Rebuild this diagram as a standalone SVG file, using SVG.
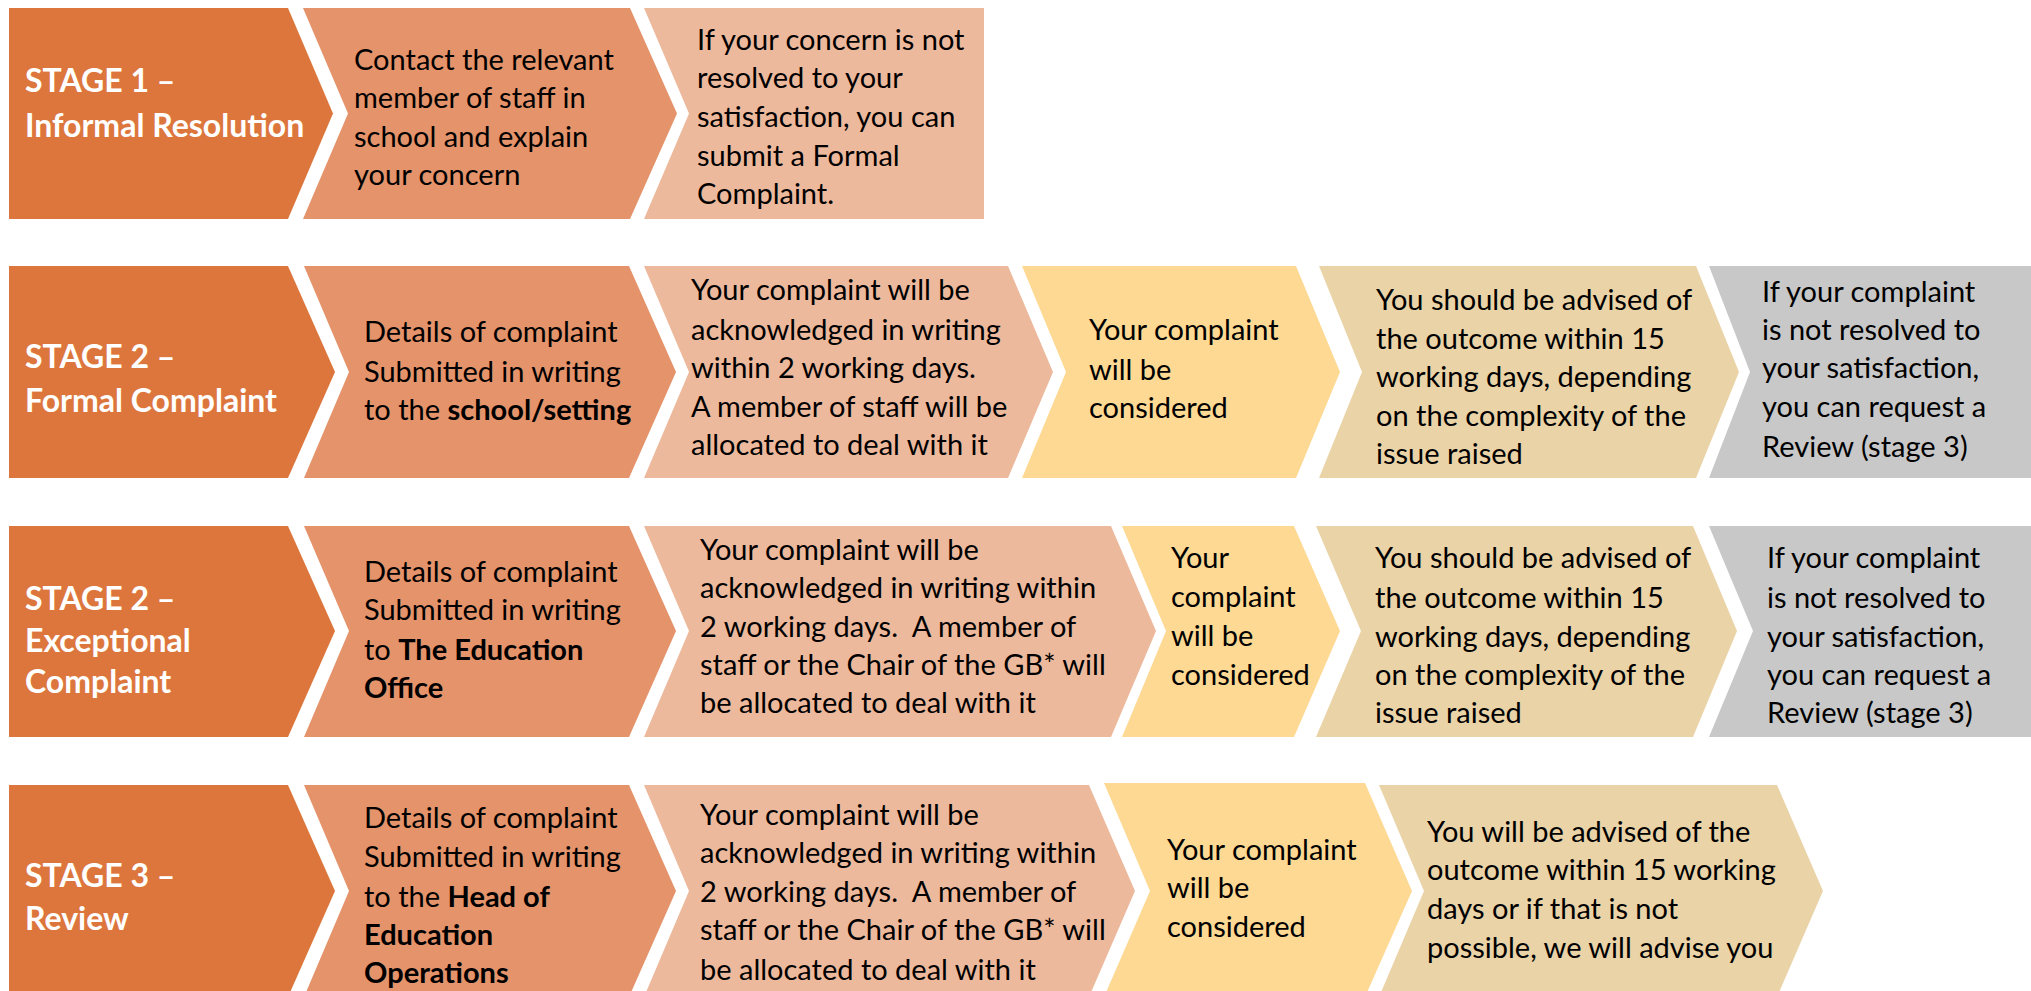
<svg xmlns="http://www.w3.org/2000/svg" width="2031" height="991" viewBox="0 0 2031 991">
<style>
text{font-family:Lato,"Liberation Sans",sans-serif;font-size:29px;fill:#000}
.st{font-weight:bold;fill:#fff;font-size:32px}
.b{font-weight:bold}
.c1{fill:#DD763D}.c2{fill:#E4936A}.c3{fill:#EDB99C}.c4{fill:#FDD993}.c5{fill:#EAD3A7}.c6{fill:#C8C8C8}
</style>
<rect width="2031" height="991" fill="#fff"/>
<g id="connectors"/>
<!-- Row 1 -->
<g id="r1-stage"><polygon class="c1" points="9,8 288,8 333,113.5 288,219 9,219"/>
<text class="st" x="25" y="92">STAGE 1 –</text><text class="st" x="25" y="137">Informal Resolution</text></g>
<g id="r1-contact"><polygon class="c2" points="303,8 630,8 677,113.5 630,219 303,219 348,113.5"/>
<text x="354" y="70">Contact the relevant</text><text x="354" y="108">member of staff in</text><text x="354" y="147">school and explain</text><text x="354" y="185">your concern</text></g>
<g id="r1-formal"><polygon class="c3" points="644,8 984,8 984,219 644,219 689,113.5"/>
<text x="697" y="50">If your concern is not</text><text x="697" y="88">resolved to your</text><text x="697" y="127">satisfaction, you can</text><text x="697" y="166">submit a Formal</text><text x="697" y="204">Complaint.</text></g>
<!-- Row 2 -->
<g id="r2-stage"><polygon class="c1" points="9,266 288,266 335,372 288,478 9,478"/>
<text class="st" x="25" y="368">STAGE 2 –</text><text class="st" x="25" y="412">Formal Complaint</text></g>
<g id="r2-details"><polygon class="c2" points="304,266 629,266 676,372 629,478 304,478 349,372"/>
<text x="364" y="342">Details of complaint</text><text x="364" y="382">Submitted in writing</text><text x="364" y="420">to the <tspan class="b">school/setting</tspan></text></g>
<g id="r2-ack"><polygon class="c3" points="644,266 1008,266 1053,372 1008,478 644,478 689,372"/>
<text x="691" y="300">Your complaint will be</text><text x="691" y="340">acknowledged in writing</text><text x="691" y="378">within 2 working days.</text><text x="691" y="417">A member of staff will be</text><text x="691" y="455">allocated to deal with it</text></g>
<g id="r2-considered"><polygon class="c4" points="1022,266 1296,266 1340,372 1296,478 1022,478 1066,372"/>
<text x="1089" y="340">Your complaint</text><text x="1089" y="380">will be</text><text x="1089" y="418">considered</text></g>
<g id="r2-outcome"><polygon class="c5" points="1319,266 1696,266 1739,372 1696,478 1319,478 1362,372"/>
<text x="1376" y="310">You should be advised of</text><text x="1376" y="349">the outcome within 15</text><text x="1376" y="387">working days, depending</text><text x="1376" y="426">on the complexity of the</text><text x="1376" y="464">issue raised</text></g>
<g id="r2-review"><polygon class="c6" points="1709,266 2031,266 2031,478 1709,478 1750,372"/>
<text x="1762" y="302">If your complaint</text><text x="1762" y="340">is not resolved to</text><text x="1762" y="378">your satisfaction,</text><text x="1762" y="417">you can request a</text><text x="1762" y="457">Review (stage 3)</text></g>
<!-- Row 3 -->
<g id="r3-stage"><polygon class="c1" points="9,526 288,526 335,631 288,737 9,737"/>
<text class="st" x="25" y="610">STAGE 2 –</text><text class="st" x="25" y="652">Exceptional</text><text class="st" x="25" y="693">Complaint</text></g>
<g id="r3-details"><polygon class="c2" points="304,526 629,526 676,631 629,737 304,737 349,631"/>
<text x="364" y="582">Details of complaint</text><text x="364" y="620">Submitted in writing</text><text x="364" y="660">to <tspan class="b">The Education</tspan></text><text class="b" x="364" y="698">Office</text></g>
<g id="r3-ack"><polygon class="c3" points="644,526 1111,526 1156,631 1111,737 644,737 689,631"/>
<text x="700" y="560">Your complaint will be</text><text x="700" y="598">acknowledged in writing within</text><text x="700" y="637" xml:space="preserve">2 working days.  A member of</text><text x="700" y="675">staff or the Chair of the GB* will</text><text x="700" y="713">be allocated to deal with it</text></g>
<g id="r3-considered"><polygon class="c4" points="1122,526 1294,526 1340,631 1294,737 1122,737 1166,631"/>
<text x="1171" y="568">Your</text><text x="1171" y="607">complaint</text><text x="1171" y="646">will be</text><text x="1171" y="685">considered</text></g>
<g id="r3-outcome"><polygon class="c5" points="1316,526 1693,526 1737,631 1693,737 1316,737 1361,631"/>
<text x="1375" y="568">You should be advised of</text><text x="1375" y="608">the outcome within 15</text><text x="1375" y="647">working days, depending</text><text x="1375" y="685">on the complexity of the</text><text x="1375" y="723">issue raised</text></g>
<g id="r3-review"><polygon class="c6" points="1709,526 2031,526 2031,737 1709,737 1753,631"/>
<text x="1767" y="568">If your complaint</text><text x="1767" y="608">is not resolved to</text><text x="1767" y="647">your satisfaction,</text><text x="1767" y="685">you can request a</text><text x="1767" y="723">Review (stage 3)</text></g>
<!-- Row 4 -->
<g id="r4-stage"><polygon class="c1" points="9,785 288,785 335,891 288,997 9,997"/>
<text class="st" x="25" y="887">STAGE 3 –</text><text class="st" x="25" y="930">Review</text></g>
<g id="r4-details"><polygon class="c2" points="304,785 629,785 676,891 629,997 304,997 349,891"/>
<text x="364" y="828">Details of complaint</text><text x="364" y="867">Submitted in writing</text><text x="364" y="907">to the <tspan class="b">Head of</tspan></text><text class="b" x="364" y="945">Education</text><text class="b" x="364" y="983">Operations</text></g>
<g id="r4-ack"><polygon class="c3" points="644,785 1089,785 1135,891 1089,997 644,997 689,891"/>
<text x="700" y="825">Your complaint will be</text><text x="700" y="863">acknowledged in writing within</text><text x="700" y="902" xml:space="preserve">2 working days.  A member of</text><text x="700" y="940">staff or the Chair of the GB* will</text><text x="700" y="980">be allocated to deal with it</text></g>
<g id="r4-considered"><polygon class="c4" points="1104,783 1365,783 1412,891 1365,997 1104,997 1150,891"/>
<text x="1167" y="860">Your complaint</text><text x="1167" y="898">will be</text><text x="1167" y="937">considered</text></g>
<g id="r4-outcome"><polygon class="c5" points="1379,785 1777,785 1823,891 1777,997 1379,997 1424,891"/>
<text x="1427" y="842">You will be advised of the</text><text x="1427" y="880">outcome within 15 working</text><text x="1427" y="919">days or if that is not</text><text x="1427" y="958">possible, we will advise you</text></g>
</svg>
